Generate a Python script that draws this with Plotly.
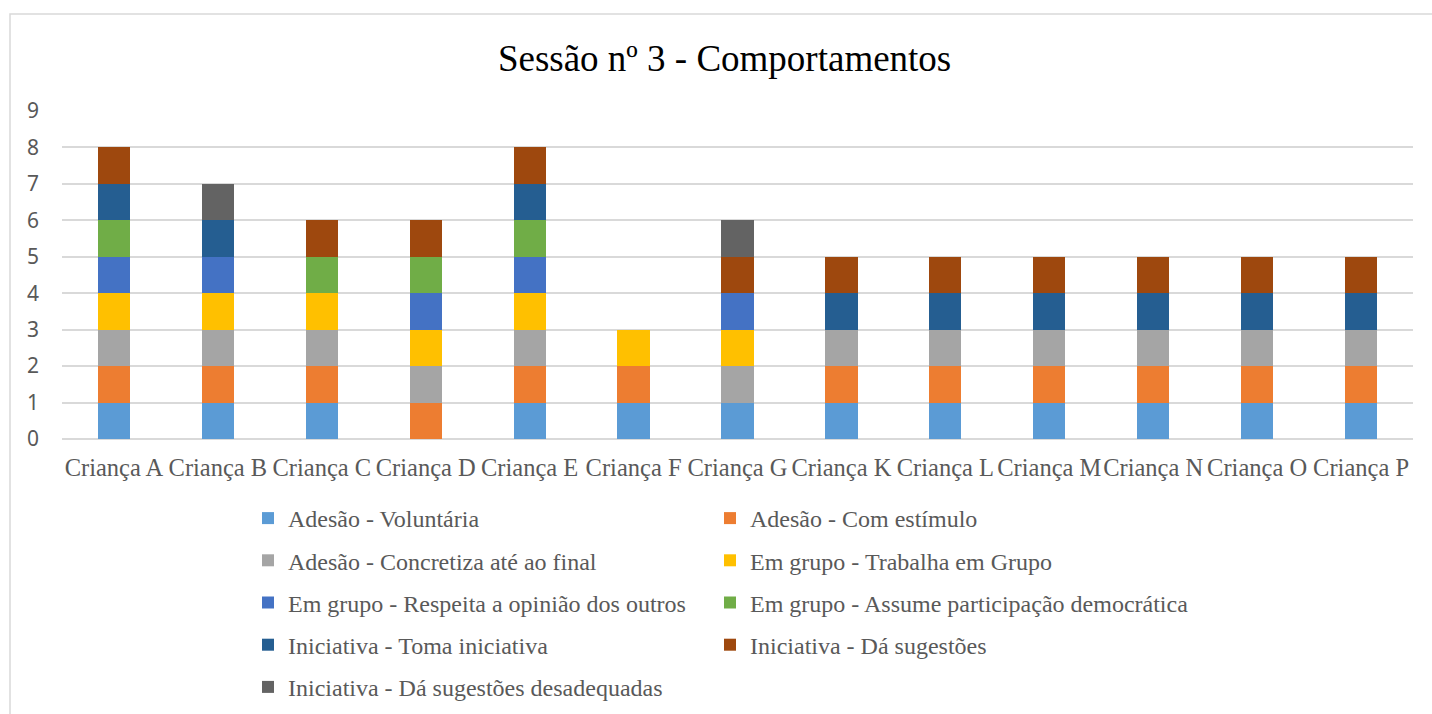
import plotly.graph_objects as go

categorias = ["Criança A", "Criança B", "Criança C", "Criança D", "Criança E", "Criança F", "Criança G",
              "Criança K", "Criança L", "Criança M", "Criança N", "Criança O", "Criança P"]

adesao_voluntaria = [1, 1, 1, 0, 1, 1, 1, 1, 1, 1, 1, 1, 1]
adesao_estimulo = [1, 1, 1, 1, 1, 1, 0, 1, 1, 1, 1, 1, 1]
adesao_concretiza = [1, 1, 1, 1, 1, 0, 1, 1, 1, 1, 1, 1, 1]
grupo_trabalha = [1, 1, 1, 1, 1, 1, 1, 0, 0, 0, 0, 0, 0]
grupo_respeita = [1, 1, 0, 1, 1, 0, 1, 0, 0, 0, 0, 0, 0]
grupo_assume = [1, 0, 1, 1, 1, 0, 0, 0, 0, 0, 0, 0, 0]
iniciativa_toma = [1, 1, 0, 0, 1, 0, 0, 1, 1, 1, 1, 1, 1]
iniciativa_sugestoes = [1, 0, 1, 1, 1, 0, 1, 1, 1, 1, 1, 1, 1]
iniciativa_desadequadas = [0, 1, 0, 0, 0, 0, 1, 0, 0, 0, 0, 0, 0]

series = [
    ("Adesão - Voluntária", adesao_voluntaria, "#5B9BD5", "legend"),
    ("Adesão - Com estímulo", adesao_estimulo, "#ED7D31", "legend2"),
    ("Adesão - Concretiza até ao final", adesao_concretiza, "#A5A5A5", "legend"),
    ("Em grupo - Trabalha em Grupo", grupo_trabalha, "#FFC000", "legend2"),
    ("Em grupo - Respeita a opinião dos outros", grupo_respeita, "#4472C4", "legend"),
    ("Em grupo - Assume participação democrática", grupo_assume, "#70AD47", "legend2"),
    ("Iniciativa - Toma iniciativa", iniciativa_toma, "#255E91", "legend"),
    ("Iniciativa - Dá sugestões", iniciativa_sugestoes, "#9E480E", "legend2"),
    ("Iniciativa - Dá sugestões desadequadas", iniciativa_desadequadas, "#636363", "legend"),
]

GRAY = "#595959"
SERIF = "Liberation Serif, Times New Roman, serif"

fig = go.Figure()
for i, (nome, valores, cor, leg) in enumerate(series):
    fig.add_trace(go.Bar(
        x=categorias, y=valores, name=nome,
        marker=dict(color=cor, line=dict(width=0)),
        legend=leg, legendgroup=f"g{i}",
    ))

legend_common = dict(
    orientation="v", yanchor="top", xanchor="left",
    font=dict(family=SERIF, size=24, color=GRAY),
    bgcolor="rgba(0,0,0,0)", tracegroupgap=8, itemclick=False,
)

fig.update_layout(
    template="none",
    barmode="stack",
    bargap=0.69,
    width=1432, height=714,
    paper_bgcolor="white", plot_bgcolor="white",
    margin=dict(l=62, r=19, t=111, b=275, autoexpand=False),
    title=dict(text="Sessão nº 3 - Comportamentos", x=0.506, xref="container", xanchor="center",
               y=1 - 58 / 714, yref="container", yanchor="middle",
               font=dict(family=SERIF, size=37, color="black")),
    xaxis=dict(showgrid=False, showline=False, ticks="", ticklabelstandoff=11, tickangle=0,
               tickfont=dict(family=SERIF, size=24.5, color=GRAY), fixedrange=True),
    yaxis=dict(range=[0, 9], dtick=1, showgrid=True, gridcolor="#D9D9D9", gridwidth=1.5,
               zeroline=True, zerolinecolor="#D9D9D9", zerolinewidth=1.5, ticks="",
               ticklabelstandoff=22, tickfont=dict(family="Noto Sans, Open Sans, sans-serif", size=21, color=GRAY),
               fixedrange=True),
    legend=dict(x=(248 - 62) / 1351, y=(439 - 496) / 328, **legend_common),
    legend2=dict(x=(710 - 62) / 1351, y=(439 - 496) / 328, **legend_common),
    shapes=[dict(type="rect", xref="paper", yref="paper",
                 x0=(10 - 62) / 1351, x1=1.1, y0=-1.0, y1=1 + (111 - 14) / 328,
                 line=dict(color="#D9D9D9", width=1.5), fillcolor="rgba(0,0,0,0)", layer="below")],
    showlegend=True,
)

# remove the default page margin so the figure sits at the window's top-left corner
fig.write_html("out.html", config={"displayModeBar": False},
               post_script="document.body.style.margin='0';")
